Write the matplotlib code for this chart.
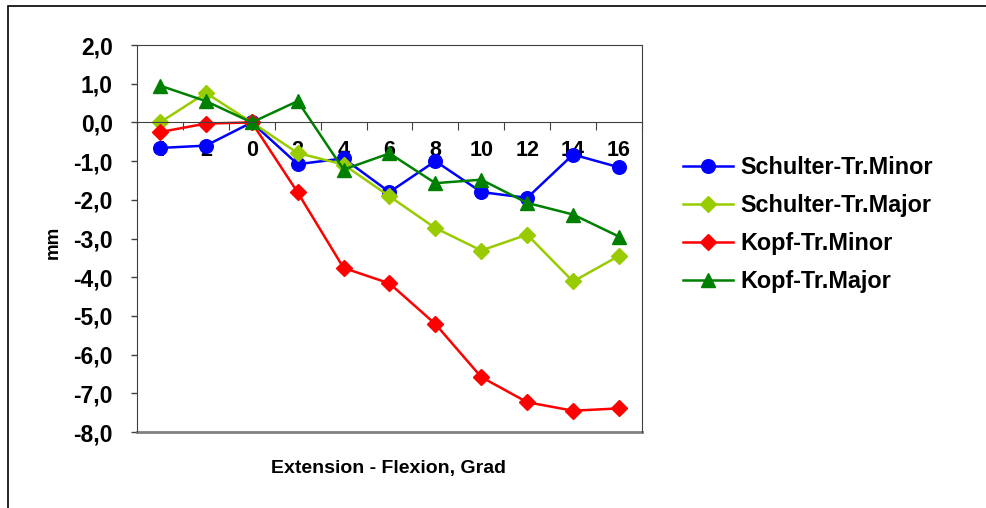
import numpy as np
import matplotlib.pyplot as plt
from matplotlib.patches import Rectangle

plt.rcParams['font.family'] = ['Liberation Sans', 'DejaVu Sans']
plt.rcParams['font.weight'] = 'bold'

# Winkel: Extension (links) - Flexion (rechts)
angles = ["4", "2", "0", "2", "4", "6", "8", "10", "12", "14", "16"]

schulter_minor = [-0.66, -0.60, 0.00, -1.08, -0.93, -1.80, -1.00, -1.80, -1.95, -0.83, -1.16]
schulter_major = [0.00, 0.76, 0.00, -0.79, -1.09, -1.91, -2.73, -3.31, -2.90, -4.11, -3.45]
kopf_minor = [-0.25, -0.03, 0.00, -1.81, -3.76, -4.16, -5.21, -6.58, -7.23, -7.45, -7.39]
kopf_major = [0.95, 0.55, 0.00, 0.55, -1.22, -0.80, -1.57, -1.48, -2.08, -2.38, -2.95]

series = [
    ("Schulter-Tr.Minor", schulter_minor, "#0000FF", "o", 9.8),
    ("Schulter-Tr.Major", schulter_major, "#99CC00", "D", 8.5),
    ("Kopf-Tr.Minor", kopf_minor, "#FF0000", "D", 8.5),
    ("Kopf-Tr.Major", kopf_major, "#008000", "^", 10),
]

fig = plt.figure(figsize=(9.86, 5.08), dpi=100)
ax = fig.add_axes([0.139, 0.1496, 0.512, 0.7618])

x = np.arange(len(angles))
for name, vals, col, mk, ms in series:
    ax.plot(x, vals, color=col, marker=mk, markersize=ms, linewidth=1.8, label=name)

ax.set_xlim(-0.5, len(angles) - 0.5)
ax.set_ylim(-8, 2)
ax.set_yticks(np.arange(-8, 3, 1))
ax.set_yticklabels([f"{v:.1f}".replace(".", ",") for v in np.arange(-8, 3, 1)])
ax.tick_params(axis='y', direction='out', length=4.5, width=1, colors='#404040',
               labelcolor='black', labelsize=16.5, pad=13)

# x axis crosses at 0, ticks between categories, labels at category centres
ax.spines['bottom'].set_position(('data', 0))
ax.spines['bottom'].set_color('#404040')
ax.set_xticks(np.arange(-0.5, len(angles), 1))
ax.set_xticklabels([])
ax.tick_params(axis='x', which='major', direction='out', length=6, colors='#404040')
ax.set_xticks(x, minor=True)
ax.set_xticklabels(angles, minor=True)
ax.tick_params(axis='x', which='minor', length=0, labelsize=15.5, pad=13, labelcolor='black')

for s in ['left', 'top', 'right']:
    ax.spines[s].set_color('#404040')
ax.axhline(-8, color='#808080', linewidth=2, clip_on=False)

ax.set_ylabel("mm", fontsize=13.5, fontweight='bold')
ax.yaxis.set_label_coords(-0.15, 0.49)
fig.text(0.3945, 0.078, "Extension - Flexion, Grad", ha='center', va='center',
         fontsize=14, fontweight='bold')

fig.legend(loc='upper left', bbox_to_anchor=(0.6927, 0.692), frameon=False,
           fontsize=16.8, handlelength=2.15, handletextpad=0.3, labelspacing=0.64,
           borderpad=0, borderaxespad=0)

# outer chart border
fig.patches.append(Rectangle((0.0081, -0.1), 1.2, 1.088, transform=fig.transFigure,
                             fill=False, edgecolor='black', linewidth=1.2))

fig.savefig("out.png", dpi=100)
